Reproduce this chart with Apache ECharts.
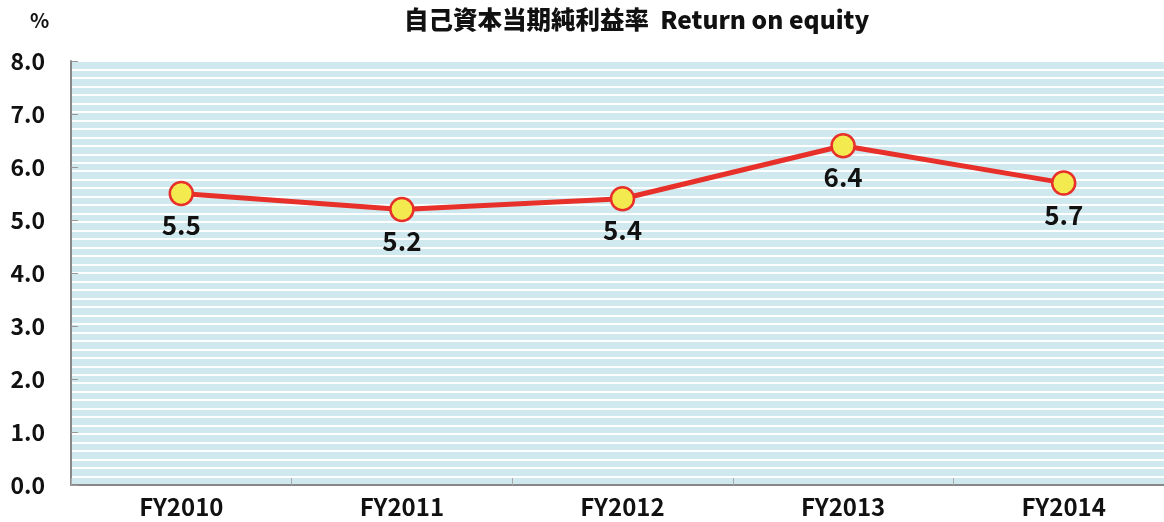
<!DOCTYPE html>
<html>
<head>
<meta charset="utf-8">
<script src="https://cdn.jsdelivr.net/npm/echarts@6/dist/echarts.min.js"></script>
<style>html,body{margin:0;padding:0;background:#fff;}#c{width:1164px;height:522px;}</style>
</head>
<body>
<div id="c"></div>
<script>
const categories = ['FY2010', 'FY2011', 'FY2012', 'FY2013', 'FY2014'];
const roeValues = [5.5, 5.2, 5.4, 6.4, 5.7];
const yTicks = ['0.0', '1.0', '2.0', '3.0', '4.0', '5.0', '6.0', '7.0', '8.0'];
const titleText = '自己資本当期純利益率  Return on equity';
const unitText = '%';

const FONT = '"Noto Sans CJK JP", "Noto Sans", sans-serif';
const chart = echarts.init(document.getElementById('c'));
chart.setOption({
  animation: false,
  backgroundColor: '#fff',
  title: [
    { text: titleText, left: 399, top: 2, textStyle: { fontFamily: FONT, fontSize: 24.5, fontWeight: 900, color: '#111' } },
    { text: unitText, left: 25, top: 5, textStyle: { fontFamily: FONT, fontSize: 20, fontWeight: 'bold', color: '#111' } }
  ],
  grid: { left: 71, width: 1103, top: 61, bottom: 37, outerBoundsMode: 'none', containLabel: false,
    show: true, backgroundColor: '#cfe9ee', borderWidth: 1, borderColor: '#b0b0b0' },
  xAxis: {
    type: 'category',
    data: categories,
    boundaryGap: true,
    axisLine: { lineStyle: { color: '#888', width: 2 } },
    axisTick: { show: true, inside: true, length: 7, lineStyle: { color: '#aaa' } },
    axisLabel: { margin: 10, fontFamily: FONT, fontSize: 24, fontWeight: 'bold', color: '#111' },
    splitLine: { show: false }
  },
  yAxis: [
    {
      type: 'value', min: 0, max: 8, interval: 1,
      axisLine: { show: true, lineStyle: { color: '#888', width: 2 } },
      axisTick: { show: true, inside: true, length: 7, lineStyle: { color: '#999' } },
      axisLabel: { margin: 26, fontFamily: FONT, fontSize: 23, fontWeight: 'bold', color: '#111',
        formatter: v => yTicks[Math.round(v)] },
      splitLine: { show: false }
    },
    {
      type: 'value', min: 0, max: 8, interval: 0.16, position: 'left',
      axisLine: { show: false }, axisTick: { show: false }, axisLabel: { show: false },
      splitLine: { show: true, lineStyle: { color: '#ffffff', width: 2 } },
      z: 0
    }
  ],
  series: [{
    type: 'line',
    data: roeValues,
    yAxisIndex: 0,
    symbol: 'circle',
    symbolSize: 23,
    lineStyle: { color: '#e8302a', width: 5 },
    itemStyle: { color: '#f2ea4e', borderColor: '#e8302a', borderWidth: 2.5 },
    label: { show: true, position: 'bottom', distance: 6, fontFamily: FONT, fontSize: 26, fontWeight: 'bold', color: '#111',
      formatter: p => p.value.toFixed(1) },
    z: 5
  }]
});
</script>
</body>
</html>
